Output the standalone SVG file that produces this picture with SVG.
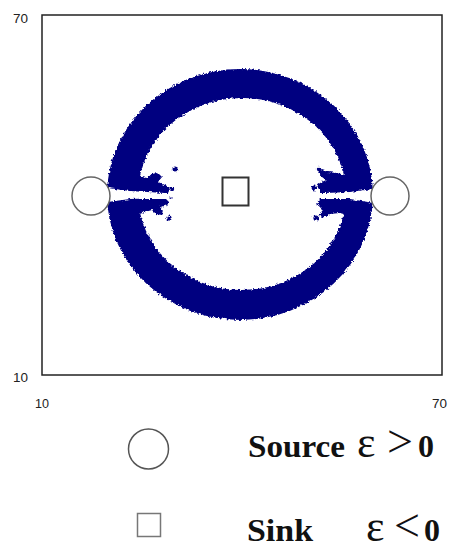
<svg xmlns="http://www.w3.org/2000/svg" width="453" height="547" viewBox="0 0 453 547">
<style>
.ax{font-family:"Liberation Sans",Arial,sans-serif;font-size:13px;fill:#222}
.lg{font-family:"Liberation Serif","Times New Roman",serif;font-weight:bold;font-size:32px;fill:#111}
.sym{font-family:"Liberation Serif","Times New Roman",serif;font-size:46px;fill:#111}
.eps{font-family:"Liberation Serif","Times New Roman",serif;font-size:44px;fill:#111}
.blue{fill:#000080}
.dot{fill:#000080}
</style>
<defs>
<filter id="rough" x="-5%" y="-5%" width="110%" height="110%">
<feTurbulence type="fractalNoise" baseFrequency="0.45" numOctaves="2" seed="3" result="n"/>
<feDisplacementMap in="SourceGraphic" in2="n" scale="4" xChannelSelector="R" yChannelSelector="G"/>
</filter>
</defs>
<rect width="453" height="547" fill="#fff"/>
<g id="frame">
<rect x="42" y="15" width="400" height="360" fill="none" stroke="#222" stroke-width="1.5"/>
<text class="ax" x="13" y="23" textLength="15" lengthAdjust="spacingAndGlyphs">70</text>
<text class="ax" x="13" y="382" textLength="15" lengthAdjust="spacingAndGlyphs">10</text>
<text class="ax" x="35" y="408" textLength="14" lengthAdjust="spacingAndGlyphs">10</text>
<text class="ax" x="432" y="408" textLength="15" lengthAdjust="spacingAndGlyphs">70</text>
</g>
<g id="ring" filter="url(#rough)">
<path class="blue" fill-rule="evenodd" d="M107,194.5 A133,125.5 0 1 0 373,194.5 A133,125.5 0 1 0 107,194.5 Z M138,194 A104,96 0 1 0 346,194 A104,96 0 1 0 138,194 Z"/>
<path class="blue" d="M136,175 L146,178 L152,174 L158,173 L162,177 L158,182 L163,184 L167,186 L170,189 L168,193 L136,193 Z"/>
<path class="blue" d="M137,199 L166,199 L170,203 L165,206 L160,207 L163,211 L162,215 L156,214 L152,210 L145,212 L137,215 Z"/>
<path class="blue" d="M347,175 L336,173 L328,172 L322,170 L318,172 L322,177 L326,180 L320,183 L316,186 L320,190 L320,193 L347,193 Z"/>
<path class="blue" d="M347,199 L320,199 L316,204 L320,207 L323,212 L318,215 L322,218 L330,214 L340,213 L347,215 Z"/>
<circle class="dot" cx="175" cy="169" r="2.5"/>
<circle class="dot" cx="172" cy="189" r="2.2"/>
<circle class="dot" cx="171" cy="197" r="2"/>
<circle class="dot" cx="169" cy="218" r="2.6"/>
<circle class="dot" cx="314" cy="188" r="2.4"/>
<circle class="dot" cx="316" cy="218" r="2.6"/>
<circle class="dot" cx="319" cy="169" r="2.2"/>
<polygon fill="#fff" points="100,187 130,191 173,193.5 173,197.5 130,199 100,203"/>
<polygon fill="#fff" points="313,193.5 350,192 380,188 380,204 350,199 313,197.5"/>
</g>
<g id="source-left">
<circle cx="91" cy="196" r="19" fill="#fff" stroke="#666" stroke-width="1.5"/>
</g>
<g id="source-right">
<circle cx="390" cy="196" r="19" fill="#fff" stroke="#666" stroke-width="1.5"/>
</g>
<g id="sink">
<rect x="222.5" y="177.5" width="26" height="28" fill="#fff" stroke="#333" stroke-width="2"/>
</g>
<g id="legend-source">
<circle cx="148.5" cy="449" r="20" fill="#fff" stroke="#555" stroke-width="1.5"/>
<text class="lg" x="248" y="457" textLength="97" lengthAdjust="spacingAndGlyphs">Source</text>
<text class="eps" x="357" y="457">ε</text>
<text class="sym" x="387" y="457">&gt;</text>
<text class="lg" x="418" y="457">0</text>
</g>
<g id="legend-sink">
<rect x="137.5" y="513.5" width="23" height="23" fill="#fff" stroke="#777" stroke-width="1.5"/>
<text class="lg" x="247" y="541" textLength="66" lengthAdjust="spacingAndGlyphs">Sink</text>
<text class="eps" x="366" y="541">ε</text>
<text class="sym" x="394" y="541">&lt;</text>
<text class="lg" x="424" y="541">0</text>
</g>
</svg>
